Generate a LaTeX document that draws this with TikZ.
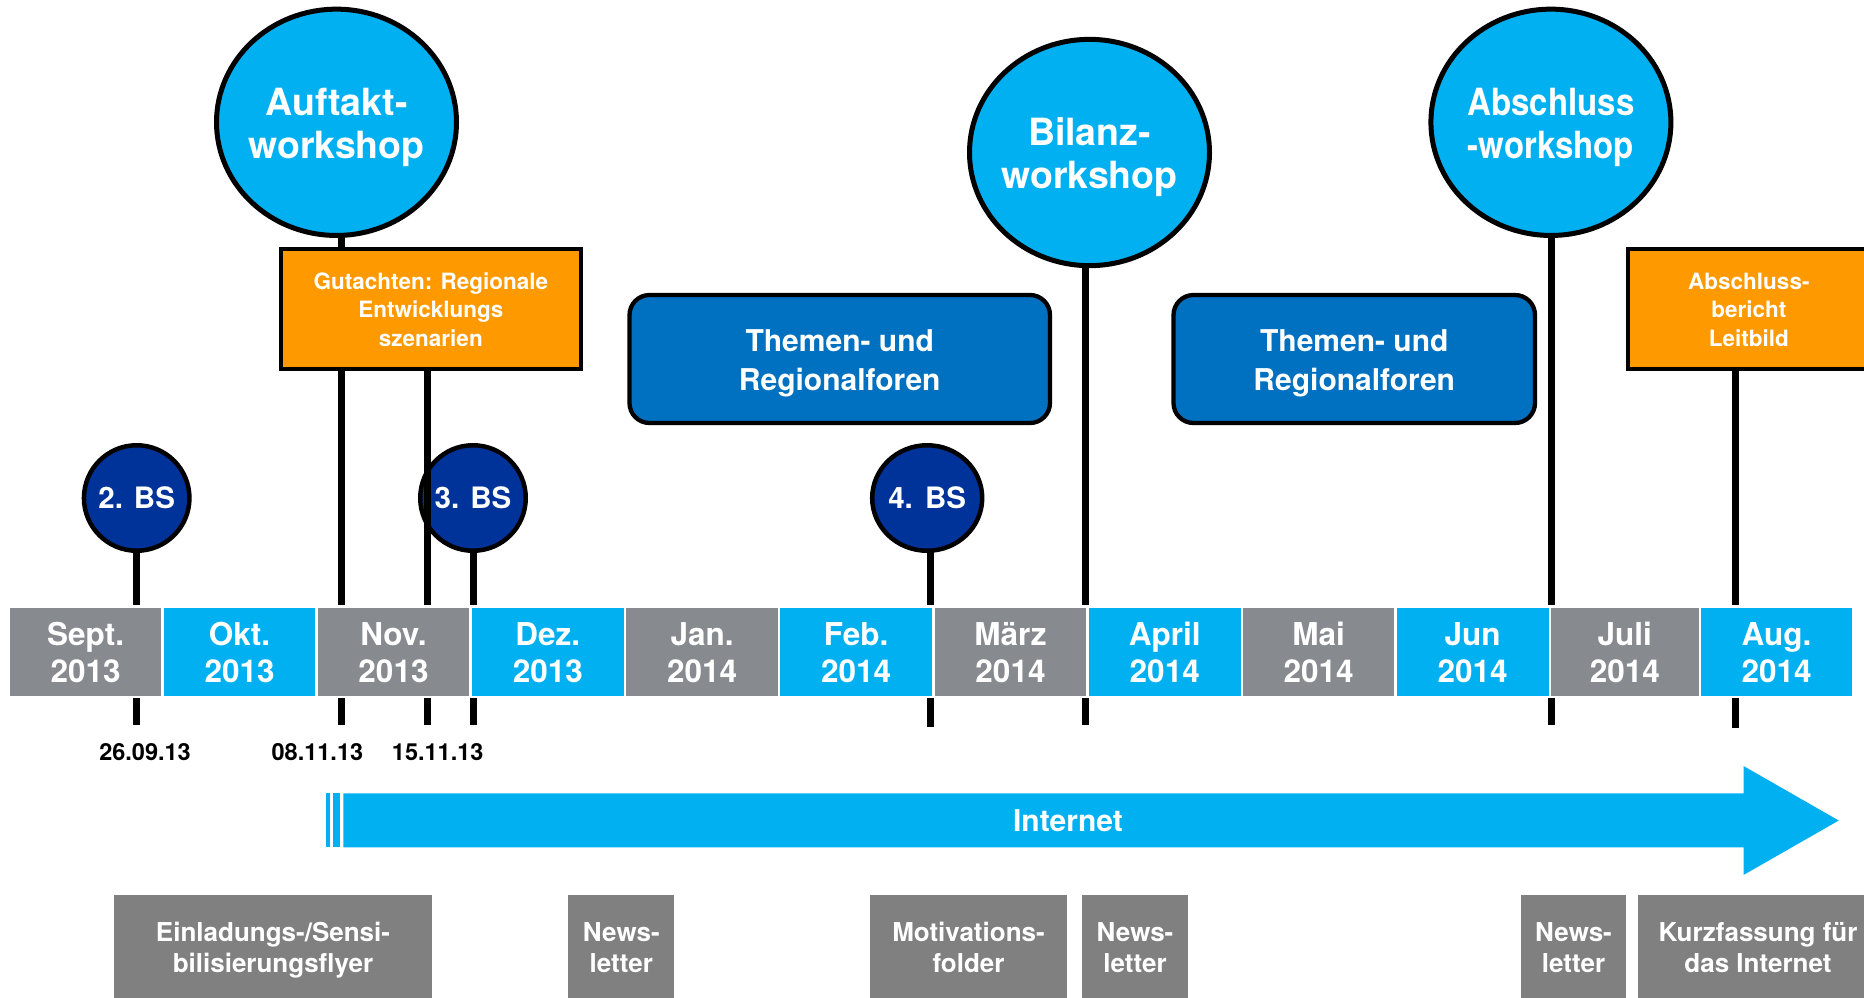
\documentclass[tikz,border=0pt]{standalone}
\usepackage{fontspec}
\setmainfont{TeX Gyre Heros}
\usetikzlibrary{shapes.geometric}

\definecolor{skyblue}{RGB}{0,176,240}
\definecolor{monthgray}{RGB}{135,138,143}
\definecolor{mediagray}{RGB}{128,128,128}
\definecolor{meetingblue}{RGB}{0,51,153}
\definecolor{forumblue}{RGB}{0,112,192}
\definecolor{reportorange}{RGB}{255,153,0}

\pgfdeclarelayer{bg}
\pgfdeclarelayer{lines}
\pgfdeclarelayer{front}
\pgfsetlayers{bg,lines,main,front}

% bold text at a given size and line distance
\newcommand\setfs[2]{\fontsize{#1}{#2}\selectfont\bfseries}
% centred lines with even spacing
\newcommand\stack[1]{\begin{tabular}{@{}c@{}}#1\end{tabular}}
% move text down inside its box without changing the box
\newcommand\shiftdown[2]{\raisebox{-#1}[\height][\depth]{#2}}

\tikzset{
  monthcell/.style={rectangle, minimum width=#1, minimum height=90.5pt,
    inner sep=0pt, draw=white, line width=2.5pt, text=white,
    font=\setfs{31.5pt}{37pt}},
  graymonth/.style={monthcell=#1, fill=monthgray},
  bluemonth/.style={monthcell=#1, fill=skyblue},
  workshop/.style={ellipse, draw=black, line width=5pt, fill=skyblue,
    text=white, inner sep=0pt, minimum width=240pt, minimum height=226.3pt,
    font=\setfs{37.5pt}{43.3pt}},
  meeting/.style={ellipse, draw=black, line width=4.5pt, fill=meetingblue,
    text=white, inner sep=0pt, minimum width=105.5pt, minimum height=105.5pt,
    font=\setfs{29.5pt}{35pt}},
  report/.style={rectangle, draw=black, line width=4pt, fill=reportorange,
    text=white, inner sep=0pt, minimum height=120pt,
    font=\setfs{22.5pt}{28.5pt}},
  forum/.style={rectangle, rounded corners=20pt, draw=black, line width=4.3pt,
    fill=forumblue, text=white, inner sep=0pt, minimum height=128pt,
    font=\setfs{30pt}{38.3pt}},
  media/.style={rectangle, fill=mediagray, text=white, inner sep=0pt,
    minimum height=105pt, font=\setfs{26pt}{30.5pt}},
  pole/.style={draw=black, line width=7pt},
  datelabel/.style={anchor=base, inner sep=0pt, text=black,
    font=\setfs{23.5pt}{28pt}},
}

\begin{document}
\begin{tikzpicture}[x=1pt,y=-1pt]
\begin{pgfonlayer}{bg}
  \fill[white] (0,0) rectangle (1864,997);
\end{pgfonlayer}
\useasboundingbox (0,0) rectangle (1864,997);
\clip (0,0) rectangle (1864,997);

% workshops
\node[workshop] (auf) at (336.5,122.3)
  {\makebox[0pt]{\shiftdown{5.7pt}{\stack{Auftakt-\\workshop}}}};
\node[workshop] (bil) at (1089.5,152.5)
  {\makebox[0pt]{\shiftdown{5.7pt}{\stack{Bilanz-\\workshop}}}};
\node[workshop] (abs) at (1550.9,122.3)
  {\makebox[0pt]{\shiftdown{5.7pt}{\scalebox{0.88}[1]{\stack{Abschluss\\-workshop}}}}};

% reports
\node[report, minimum width=300.1pt] (gut) at (430.85,308.7)
  {\shiftdown{3.4pt}{\stack{Gutachten: Regionale\\Entwicklungs\\szenarien}}};
\node[report, minimum width=242.3pt] (rep) at (1748.85,308.7)
  {\shiftdown{3.4pt}{\stack{Abschluss-\\bericht\\Leitbild}}};

% forums
\node[forum, minimum width=420.5pt] (forum1) at (839.75,359)
  {\shiftdown{4.2pt}{\stack{Themen- und\\Regionalforen}}};
\node[forum, minimum width=361.5pt] (forum2) at (1354.25,359)
  {\shiftdown{4.2pt}{\stack{Themen- und\\Regionalforen}}};

% steering meetings
\node[meeting] (bs2) at (136.7,498) {\makebox[0pt]{2. BS}};
\node[meeting] (bs3) at (473,498) {\makebox[0pt]{3. BS}};
\node[meeting, minimum width=110pt] (bs4) at (927.2,498) {\makebox[0pt]{4.\kern4pt\ BS}};

% ends of the date poles below the timeline
\coordinate (t26) at (136.7,725);
\coordinate (t08) at (341,725);
\coordinate (t15) at (427.8,725);
\coordinate (t3bs) at (473.5,725);
\coordinate (t4bs) at (930.6,727);
\coordinate (tbil) at (1085.7,725);
\coordinate (tabs) at (1551.5,725);
\coordinate (trep) at (1735,728);

\begin{pgfonlayer}{lines}
  \draw[pole] (bs2) -- (t26);
  \draw[pole] (auf.center -| t08) -- (t08);
  \draw[pole] (bs3.center -| t3bs) -- (t3bs);
  \draw[pole] (bs4.center -| t4bs) -- (t4bs);
  \draw[pole] (bil.center -| tbil) -- (tbil);
  \draw[pole] (abs.center -| tabs) -- (tabs);
  \draw[pole] (rep.center -| trep) -- (trep);
\end{pgfonlayer}
\draw[pole] (gut.south -| t15) -- (t15);

% timeline
\begin{pgfonlayer}{front}
  \node[graymonth=154.1pt] (sep13) at (85.55,651.6) {\shiftdown{4.5pt}{\stack{Sept.\\2013}}};
  \node[bluemonth=153.9pt] (okt13) at (239.55,651.6) {\shiftdown{4.5pt}{\stack{Okt.\\2013}}};
  \node[graymonth=154pt] (nov13) at (393.5,651.6) {\shiftdown{4.5pt}{\stack{Nov.\\2013}}};
  \node[bluemonth=154.6pt] (dez13) at (547.8,651.6) {\shiftdown{4.5pt}{\stack{Dez.\\2013}}};
  \node[graymonth=153.9pt] (jan14) at (702.05,651.6) {\shiftdown{4.5pt}{\stack{Jan.\\2014}}};
  \node[bluemonth=154.3pt] (feb14) at (856.15,651.6) {\shiftdown{4.5pt}{\stack{Feb.\\2014}}};
  \node[graymonth=154.4pt] (mar14) at (1010.5,651.6) {\shiftdown{4.5pt}{\stack{März\\2014}}};
  \node[bluemonth=154.1pt] (apr14) at (1164.75,651.6) {\shiftdown{4.5pt}{\stack{April\\2014}}};
  \node[graymonth=153.7pt] (mai14) at (1318.65,651.6) {\shiftdown{4.5pt}{\stack{Mai\\2014}}};
  \node[bluemonth=154.3pt] (jun14) at (1472.65,651.6) {\shiftdown{4.5pt}{\stack{Jun\\2014}}};
  \node[graymonth=150pt] (jul14) at (1624.8,651.6) {\shiftdown{4.5pt}{\stack{Juli\\2014}}};
  \node[bluemonth=153.5pt] (aug14) at (1776.55,651.6) {\shiftdown{4.5pt}{\stack{Aug.\\2014}}};
\end{pgfonlayer}

% dates
\node[datelabel] (d1) at (145,760) {26.09.13};
\node[datelabel] (d2) at (317.4,760) {08.11.13};
\node[datelabel] (d3) at (437.7,760) {15.11.13};

% internet arrow
\fill[skyblue] (326,793.3) rectangle (329.7,847.3);
\fill[skyblue] (333,793.3) rectangle (340,847.3);
\fill[skyblue] (343.3,793.3) -- (1743.5,793.3) -- (1743.5,766) -- (1838.7,820.5)
  -- (1743.5,875) -- (1743.5,847.3) -- (343.3,847.3) -- cycle;
\node[anchor=base, inner sep=0pt, text=white, font=\setfs{30pt}{36pt}]
  (internet) at (1068,831.7) {Internet};

% print and web media
\node[media, minimum width=318pt] (flyer) at (273,947.5)
  {\shiftdown{3.35pt}{\stack{Einladungs-/Sensi-\\bilisierungsflyer}}};
\node[media, minimum width=105.8pt] (news1) at (621.3,947.5)
  {\shiftdown{3.35pt}{\stack{News-\\letter}}};
\node[media, minimum width=197pt] (folder) at (968.5,947.5)
  {\shiftdown{3.35pt}{\stack{Motivations-\\folder}}};
\node[media, minimum width=106pt] (news2) at (1135,947.5)
  {\shiftdown{3.35pt}{\stack{News-\\letter}}};
\node[media, minimum width=105.8pt] (news3) at (1573.5,947.5)
  {\shiftdown{3.35pt}{\stack{News-\\letter}}};
\node[media, minimum width=240pt] (kurz) at (1758,947.5)
  {\shiftdown{3.35pt}{\stack{Kurzfassung für\\das Internet}}};
\end{tikzpicture}
\end{document}
